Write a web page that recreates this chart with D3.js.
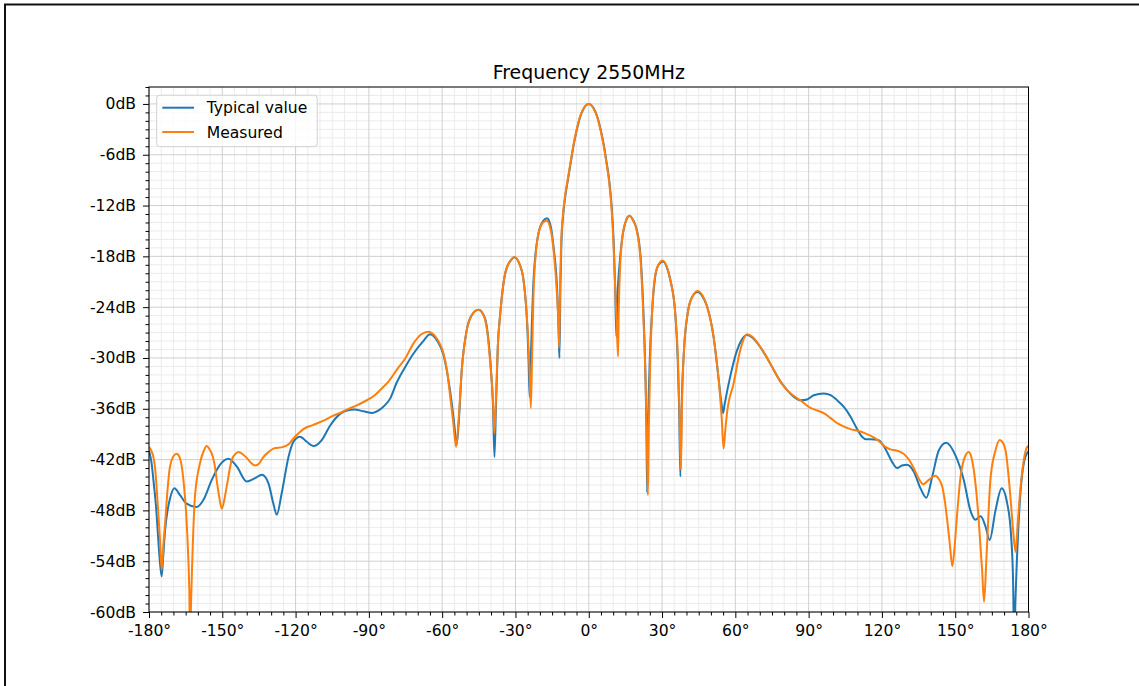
<!DOCTYPE html>
<html><head><meta charset="utf-8">
<script src="https://cdn.jsdelivr.net/npm/d3@7"></script>
<style>body{margin:0;background:#fff;} svg{display:block;font-family:"DejaVu Sans",sans-serif;}</style>
</head><body><svg id="chart" width="1139" height="686"></svg>
<script>
const chartTitle = "Frequency 2550MHz";
const seriesNames = ["Typical value", "Measured"];
const seriesColors = ["#1f77b4", "#ff7f0e"];
const xTicks = [-180, -150, -120, -90, -60, -30, 0, 30, 60, 90, 120, 150, 180];
const yTicks = [0, -6, -12, -18, -24, -30, -36, -42, -48, -54, -60];

const typicalAngles = [-180,-179,-178.2,-177,-176.2,-175.4,-174.8,-174.2,-173.4,-172.4,-171.4,-169.6,-167.3,-164.6,-160.5,-157.8,-154.3,-150.9,-147.5,-144.1,-140,-136.6,-133.8,-131.1,-129.1,-127.7,-125.7,-122.9,-120.9,-118.2,-115.4,-112.7,-109.3,-105.9,-101.8,-99,-96,-92.2,-88.5,-86,-83.5,-81.3,-78.6,-75,-71.8,-68,-64.9,-62,-59.5,-57.5,-56,-55,-54.1,-53.2,-52,-50,-48,-45.1,-42.5,-41.2,-40,-39.2,-38.6,-38,-37.2,-36.2,-34.2,-32,-30.4,-28.5,-26.7,-25.1,-24.6,-24.2,-23.6,-22.6,-20.6,-18.6,-17.1,-15.6,-14.4,-12.8,-12.3,-12,-11.6,-11.2,-10.5,-9.6,-8.5,-7.3,-6.2,-5,-3.6,-2,0,2,3.6,5,6.2,7.3,8.4,9.4,10.2,10.8,11.3,11.8,12.6,13.6,15,16.7,18.3,19.7,21.4,22.4,23.2,23.6,23.9,24.3,25,25.9,27.2,28.6,30.4,32,33.4,35.4,36.4,37,37.5,38.1,39,40.5,42.5,44.6,46.5,48.4,51.1,53.2,54.3,55,55.6,57.9,60.7,62.5,64.8,67,70.2,73,75.7,78.5,81.2,84,86.6,89.4,92.1,96.2,99,101.7,104.5,107.1,109.5,111.9,113.5,115.3,118.7,120.5,122.1,124.2,126.2,128.2,130.3,133,135.8,138.2,140.6,143.3,146.3,150.1,153.5,156.2,158.3,160.4,162.4,164.1,166.5,169,171.3,172.9,173.7,174.1,174.6,175.1,176.4,178.1,180];
const typicalDb = [-41,-42.3,-44.4,-48,-51.5,-54.5,-55.8,-53.5,-50.3,-48,-46.6,-45.4,-46.2,-47.2,-47.6,-46.8,-44.4,-42.6,-41.9,-42.8,-44.6,-44.2,-43.8,-44.8,-47.2,-48.5,-46,-41.7,-39.9,-39.3,-39.9,-40.4,-39.7,-38,-36.6,-36.2,-36.1,-36.3,-36.5,-36.2,-35.6,-34.8,-32.9,-31,-29.5,-28.1,-27.2,-28,-29.6,-32.5,-35.5,-38,-40.3,-37.5,-31.5,-26.8,-25,-24.3,-25.3,-27.5,-31.5,-35.5,-41.7,-36,-28.5,-24.7,-20,-18.5,-18.1,-18.8,-20.8,-26.7,-30.5,-34.6,-29,-20.8,-15.3,-13.8,-13.5,-14.4,-16.9,-22.8,-27,-30,-21.5,-16.5,-13.2,-10.9,-8.9,-6.8,-4.9,-3.2,-1.6,-0.5,0,-0.5,-1.6,-3.2,-4.9,-6.9,-9.1,-12.2,-16.3,-21.5,-27.5,-22.5,-19,-16.1,-14,-13.2,-13.8,-14.9,-18.8,-24.7,-32,-38,-45.9,-38,-30,-24.7,-20.4,-19,-18.6,-19.3,-20.8,-24.7,-30,-36,-44,-35,-29,-24.7,-22.7,-22.2,-22.7,-23.9,-27.5,-32.6,-35.3,-36.5,-35.5,-32.2,-29.1,-27.9,-27.3,-27.6,-28.7,-30,-31.4,-32.8,-33.8,-34.6,-35,-34.9,-34.4,-34.2,-34.4,-35,-35.8,-36.9,-38.2,-39.3,-39.6,-39.6,-39.7,-40.3,-41.1,-42.3,-43,-42.7,-42.6,-43.4,-45.4,-46.5,-44,-40.9,-40,-41.5,-44.4,-48,-49.1,-48.7,-49.9,-51.5,-48,-45.4,-47.2,-51.1,-56.5,-64,-59,-55,-47.2,-42.4,-41];

const measuredAngles = [-180,-179,-178.2,-177.5,-176.8,-175.5,-174.8,-174.1,-173.4,-172.4,-171.4,-170,-168.7,-167.5,-166.6,-165.7,-164.8,-164,-163.5,-163.2,-162.8,-162.4,-161.2,-159.1,-157.5,-156.4,-155.2,-154.3,-153.2,-152.3,-151.2,-150.2,-149.2,-148.2,-146.1,-144.5,-143.4,-141.5,-140,-138.2,-136.6,-135,-133.2,-131,-129.1,-125,-122.5,-120.9,-118.8,-116.8,-112.7,-108.6,-104.5,-101.8,-99,-95,-92.2,-88,-85.4,-82,-78.6,-75,-71.8,-68.5,-65.6,-63,-61,-59.5,-58,-56.7,-55.5,-54.3,-53.3,-52,-50,-48,-45.3,-43,-41.5,-40.2,-39.2,-38.6,-38,-37.2,-36.2,-34.2,-32,-30.4,-28.5,-26.7,-25,-24.3,-23.7,-23.2,-22.5,-20.7,-18.7,-17.2,-15.8,-14.5,-13,-12.4,-12.1,-11.7,-11.3,-10.6,-9.7,-8.6,-7.4,-6.3,-5.1,-3.7,-2.1,-0.1,1.9,3.5,4.9,6.1,7.2,8.3,9.3,10.1,10.8,11.5,12,12.3,12.8,13.6,15,16.6,18.2,19.6,21.3,22.3,23.2,23.7,24.2,24.6,25.2,25.9,27.1,28.5,30.3,31.9,33.4,35.4,36.5,37.1,37.7,38.2,39,40.5,42.5,44.6,46.5,48.4,51.1,53.2,54.4,55.2,55.9,56.6,59.3,62,64.8,67,70.2,73,75.7,78.5,81.2,84,86.6,90.7,93.5,96.2,99,101.7,104.5,107.1,110,113.2,117.3,119.5,121.4,123.5,125.5,127.5,129.6,131.5,133,135,136.9,139.2,141.9,143.3,144.7,145.8,146.7,147.8,148.8,149.7,150.5,152.2,153.8,155.5,156.7,157.6,158.7,159.6,161,161.8,162.8,164.4,166.5,168.2,169.5,170.6,172.6,173.6,174.7,175.6,176.4,178.1,179.5,180];
const measuredDb = [-40.5,-41,-41.7,-43,-45.6,-51.5,-55,-52,-49.5,-45.5,-42.8,-41.6,-41.3,-41.7,-42.8,-45,-48.3,-53,-57.5,-63,-59,-55,-46.4,-42.4,-40.9,-40.4,-40.8,-41.3,-42.5,-44.4,-46.5,-47.8,-46.8,-45.2,-42,-41.3,-41.1,-41.4,-41.8,-42.4,-42.7,-42.5,-41.7,-41.1,-40.7,-40.5,-40.1,-39.5,-38.9,-38.4,-37.9,-37.4,-36.8,-36.5,-36.1,-35.6,-35.2,-34.5,-33.8,-32.8,-31.4,-30,-28.3,-27.2,-26.9,-27.4,-28.3,-29.4,-31.5,-34.6,-37.5,-40.5,-37.5,-31.5,-26.8,-25,-24.3,-25,-27,-31,-35,-38.9,-35,-28.5,-24.7,-20,-18.5,-18.1,-18.8,-20.8,-26.7,-31,-35.9,-30,-21.5,-15.5,-14,-13.8,-14.6,-17,-22.5,-26,-28.8,-21,-16.5,-13.2,-10.9,-8.9,-6.8,-4.9,-3.2,-1.6,-0.5,0,-0.5,-1.6,-3.2,-4.9,-6.9,-9.1,-12.2,-16.3,-21.5,-26.5,-29.8,-24,-19.5,-16.1,-14,-13.2,-13.8,-14.9,-18.8,-24.7,-32,-38,-46.2,-38,-30,-24.7,-20.4,-19,-18.5,-19.2,-20.8,-24.7,-30,-36,-43.2,-35,-29,-24.7,-22.7,-22.1,-22.6,-23.9,-27.5,-32.6,-37,-40.7,-38.5,-36.5,-33,-29.1,-27.2,-27.5,-28.7,-30,-31.4,-32.8,-33.8,-34.5,-35,-35.9,-36.2,-36.5,-37.1,-37.7,-38.1,-38.4,-38.6,-38.9,-39.5,-40,-40.5,-40.8,-40.9,-41.1,-41.5,-42.2,-43,-44.2,-44.9,-44.4,-43.9,-44.3,-45.2,-47,-49.1,-52,-54.6,-52.5,-49.5,-44,-41.8,-41.1,-41.8,-43.2,-46,-49.1,-55,-58.8,-53.5,-44.4,-40.9,-39.7,-40,-40.9,-46.4,-50,-52.9,-49.5,-46.4,-42,-40.5,-40.4];

const svg = d3.select("#chart");
const W = 1139, H = 686;
const x = d3.scaleLinear().domain([-180, 180]).range([149, 1028.5]);
const y = d3.scaleLinear().domain([-60, 2]).range([612, 87]);
const [x0, x1] = x.range();
const [y0, y1] = y.range();
const tickFont = 15.6;

svg.append("rect").attr("width", W).attr("height", H).attr("fill", "#fff");
// figure frame
svg.append("path").attr("d", `M5,${H} V4.5 H${W}`).attr("fill", "none").attr("stroke", "#111").attr("stroke-width", 2);

// title
svg.append("text").attr("x", (x0 + x1) / 2).attr("y", 78.5).attr("text-anchor", "middle")
  .attr("font-size", 18.9).attr("fill", "#000").text(chartTitle);

// grid
const minorX = d3.range(-180, 181, 5).filter(v => v % 30 !== 0);
const minorY = d3.range(-60, 3, 1).filter(v => v % 6 !== 0);
const gGrid = svg.append("g");
gGrid.selectAll(".mx").data(minorX).join("line")
  .attr("x1", d => x(d)).attr("x2", d => x(d)).attr("y1", y1).attr("y2", y0)
  .attr("stroke", "#ebebeb").attr("stroke-width", 1);
gGrid.selectAll(".my").data(minorY).join("line")
  .attr("y1", d => y(d)).attr("y2", d => y(d)).attr("x1", x0).attr("x2", x1)
  .attr("stroke", "#ebebeb").attr("stroke-width", 1);
gGrid.selectAll(".Mx").data(xTicks).join("line")
  .attr("x1", d => x(d)).attr("x2", d => x(d)).attr("y1", y1).attr("y2", y0)
  .attr("stroke", "#cfcfcf").attr("stroke-width", 1);
gGrid.selectAll(".My").data(yTicks).join("line")
  .attr("y1", d => y(d)).attr("y2", d => y(d)).attr("x1", x0).attr("x2", x1)
  .attr("stroke", "#cfcfcf").attr("stroke-width", 1);

// clip
svg.append("defs").append("clipPath").attr("id", "clip").append("rect")
  .attr("x", x0).attr("y", y1).attr("width", x1 - x0).attr("height", y0 - y1);

const line = d3.line().x(d => x(d[0])).y(d => y(d[1])).curve(d3.curveMonotoneX);
const series = [
  d3.zip(typicalAngles, typicalDb),
  d3.zip(measuredAngles, measuredDb)
];
const gLines = svg.append("g").attr("clip-path", "url(#clip)");
series.forEach((s, i) => {
  gLines.append("path").datum(s).attr("d", line).attr("fill", "none")
    .attr("stroke", seriesColors[i]).attr("stroke-width", 2).attr("stroke-linejoin", "round");
});

// axes
const fmtX = d => d + "°";
const fmtY = d => d + "dB";
const gx = svg.append("g").attr("transform", `translate(0,${y0})`)
  .call(d3.axisBottom(x).tickValues(xTicks).tickFormat(fmtX).tickSize(6).tickPadding(7));
const gxm = svg.append("g").attr("transform", `translate(0,${y0})`)
  .call(d3.axisBottom(x).tickValues(minorX).tickFormat("").tickSize(3.5));
const gy = svg.append("g").attr("transform", `translate(${x0},0)`)
  .call(d3.axisLeft(y).tickValues(yTicks).tickFormat(fmtY).tickSize(6).tickPadding(7));
const gym = svg.append("g").attr("transform", `translate(${x0},0)`)
  .call(d3.axisLeft(y).tickValues(minorY).tickFormat("").tickSize(3.5));
[gx, gxm, gy, gym].forEach(g => {
  g.select(".domain").remove();
  g.selectAll("line").attr("stroke", "#000");
  g.selectAll("text").attr("font-size", tickFont).attr("fill", "#000").attr("font-family", "DejaVu Sans, sans-serif");
});

// spines
svg.append("rect").attr("x", x0).attr("y", y1).attr("width", x1 - x0).attr("height", y0 - y1)
  .attr("fill", "none").attr("stroke", "#000").attr("stroke-width", 1);

// legend
const lg = svg.append("g");
lg.append("rect").attr("x", 156.7).attr("y", 95.2).attr("width", 160.5).attr("height", 51.5).attr("rx", 3)
  .attr("fill", "#fff").attr("fill-opacity", 0.8).attr("stroke", "#d0d0d0").attr("stroke-width", 1);
seriesNames.forEach((name, i) => {
  const cy = 107.7 + i * 24.3;
  lg.append("line").attr("x1", 162.3).attr("x2", 194).attr("y1", cy).attr("y2", cy)
    .attr("stroke", seriesColors[i]).attr("stroke-width", 2);
  lg.append("text").attr("x", 206.7).attr("y", cy + 5.6).attr("font-size", tickFont).attr("fill", "#000").text(name);
});
</script></body></html>
